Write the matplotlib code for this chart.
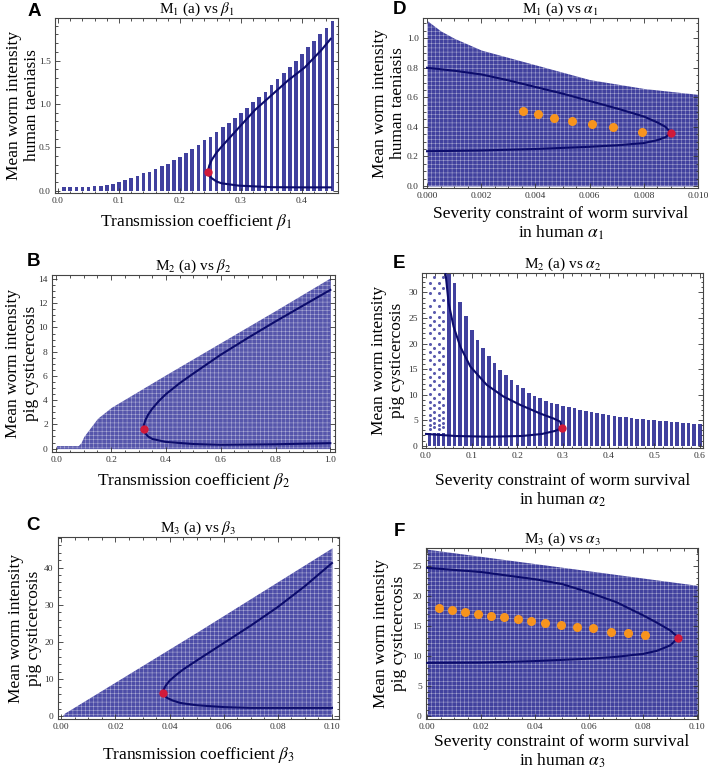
import numpy as np
import matplotlib
matplotlib.use('Agg')
import matplotlib.pyplot as plt
from matplotlib.ticker import MultipleLocator, FormatStrFormatter

plt.rcParams['font.family'] = ['Liberation Serif', 'DejaVu Serif']
plt.rcParams['mathtext.fontset'] = 'stix'
plt.rcParams['hatch.linewidth'] = 0.35

# ---------------- data ----------------
# A: M1 vs beta1 (columns of points)
A_x = [0.01, 0.02, 0.03, 0.04, 0.05, 0.06, 0.07, 0.08, 0.09, 0.10,
       0.11, 0.12, 0.13, 0.14, 0.15, 0.16, 0.17, 0.18, 0.19, 0.20,
       0.21, 0.22, 0.23, 0.24, 0.25, 0.26, 0.27, 0.28, 0.29, 0.30,
       0.31, 0.32, 0.33, 0.34, 0.35, 0.36, 0.37, 0.38, 0.39, 0.40,
       0.41, 0.42, 0.43, 0.44, 0.45]
A_top = [0.04, 0.04, 0.04, 0.04, 0.04, 0.05, 0.055, 0.06, 0.08, 0.10,
         0.12, 0.15, 0.17, 0.20, 0.22, 0.25, 0.28, 0.31, 0.35, 0.39,
         0.43, 0.48, 0.53, 0.58, 0.62, 0.68, 0.73, 0.78, 0.84, 0.90,
         0.95, 1.02, 1.08, 1.14, 1.22, 1.29, 1.36, 1.43, 1.49, 1.57,
         1.65, 1.72, 1.80, 1.87, 1.95]
A_up_x = [0.2454, 0.248, 0.252, 0.26, 0.2683, 0.2956, 0.3229, 0.35, 0.377, 0.4044, 0.4317, 0.447]
A_up_y = [0.216, 0.29, 0.354, 0.44, 0.508, 0.72, 0.93, 1.10, 1.27, 1.42, 1.62, 1.75]
A_lo_x = [0.2454, 0.248, 0.252, 0.26, 0.268, 0.296, 0.35, 0.40, 0.447]
A_lo_y = [0.216, 0.17, 0.143, 0.105, 0.085, 0.058, 0.04, 0.038, 0.038]
A_bif = (0.2454, 0.216)

# B: M2 vs beta2 (dense cloud)
B_env_x = [0.0, 0.08, 0.09, 0.10, 0.12, 0.15, 0.2, 0.4, 0.6, 0.8, 1.0]
B_env_top = [0.25, 0.25, 0.5, 1.0, 1.6, 2.5, 3.4, 6.1, 8.75, 11.4, 14.1]
B_up_x = [0.318, 0.32, 0.325, 0.335, 0.35, 0.375, 0.4, 0.45, 0.5, 0.6, 0.7, 0.8, 0.9, 1.0]
B_up_y = [1.6, 2.0, 2.35, 2.8, 3.3, 3.95, 4.5, 5.4, 6.2, 7.75, 9.15, 10.5, 11.8, 13.1]
B_lo_x = [0.318, 0.325, 0.335, 0.35, 0.4, 0.5, 0.6, 0.8, 1.0]
B_lo_y = [1.6, 1.25, 1.0, 0.8, 0.55, 0.38, 0.32, 0.36, 0.45]
B_bif = (0.318, 1.6)

# C: M3 vs beta3
C_env_x = [0.0005, 0.001, 0.05, 0.1]
C_env_top = [0.3, 0.8, 22.6, 45.3]
C_up_x = [0.0375, 0.0378, 0.0385, 0.04, 0.0425, 0.045, 0.05, 0.06, 0.07, 0.08, 0.09, 0.1]
C_up_y = [6.3, 7.2, 8.2, 9.6, 11.2, 12.6, 15.0, 19.7, 24.4, 29.4, 35.0, 41.2]
C_lo_x = [0.0375, 0.038, 0.039, 0.041, 0.044, 0.05, 0.06, 0.07, 0.1]
C_lo_y = [6.3, 5.6, 5.0, 4.3, 3.6, 3.0, 2.5, 2.3, 2.3]
C_bif = (0.0375, 6.3)

# D: M1 vs alpha1
D_env_x = [0.0, 0.0005, 0.001, 0.002, 0.003, 0.004, 0.005, 0.006, 0.007, 0.008, 0.009, 0.010]
D_env_top = [1.12, 1.05, 1.0, 0.92, 0.87, 0.82, 0.77, 0.72, 0.69, 0.66, 0.64, 0.62]
D_up_x = [0.0, 0.001, 0.002, 0.003, 0.004, 0.005, 0.006, 0.007, 0.008, 0.0085, 0.0088, 0.009]
D_up_y = [0.80, 0.78, 0.755, 0.715, 0.67, 0.625, 0.575, 0.525, 0.47, 0.43, 0.40, 0.36]
D_lo_x = [0.0, 0.002, 0.004, 0.006, 0.007, 0.008, 0.0085, 0.0088, 0.009]
D_lo_y = [0.235, 0.24, 0.25, 0.265, 0.275, 0.29, 0.31, 0.33, 0.36]
D_bif = (0.009, 0.36)
D_orange_x = [0.00355, 0.00409, 0.0047, 0.00536, 0.00607, 0.00685, 0.00794]
D_orange_y = [0.51, 0.488, 0.46, 0.442, 0.418, 0.402, 0.368]

# E: M2 vs alpha2 (columns)
E_x = [0.05, 0.0625, 0.075, 0.0875, 0.1, 0.1125, 0.125, 0.1375, 0.15, 0.1625,
       0.175, 0.1875, 0.2, 0.2125, 0.225, 0.2375, 0.25, 0.2625, 0.275, 0.2875,
       0.3, 0.3125, 0.325, 0.3375, 0.35, 0.3625, 0.375, 0.3875, 0.4, 0.4125,
       0.425, 0.4375, 0.45, 0.4625, 0.475, 0.4875, 0.5, 0.5125, 0.525, 0.5375,
       0.55, 0.5625, 0.575, 0.5875, 0.6]
E_top = [40.0, 31.8, 28.2, 25.3, 22.7, 20.7, 19.1, 17.6, 16.2, 14.9,
         13.9, 12.9, 11.9, 11.3, 10.4, 9.8, 9.3, 8.8, 8.4, 8.1,
         7.8, 7.5, 7.3, 7.0, 6.8, 6.6, 6.4, 6.2, 6.0, 5.85,
         5.7, 5.55, 5.45, 5.3, 5.2, 5.05, 4.95, 4.85, 4.75, 4.65,
         4.55, 4.45, 4.35, 4.3, 4.2]
E_sparse_x = [0.008, 0.018, 0.028, 0.038]
E_sparse_base = 2.5
E_dots_a = [3.2, 4.0, 5.0, 6.0, 7.3, 8.6, 10.2, 11.9, 13.5, 15.1, 16.8, 18.4,
            20.0, 22.0, 23.6, 25.2, 27.3, 29.8, 31.8]
E_dots_b = [3.6, 4.5, 5.5, 6.6, 7.9, 9.4, 11.0, 12.7, 14.3, 15.9, 17.6, 19.2,
            21.0, 22.8, 24.4, 26.2, 28.5, 30.8, 33.0]
E_up_x = [0.042, 0.0495, 0.0604, 0.075, 0.097, 0.133, 0.17, 0.206, 0.25, 0.28, 0.294, 0.2976]
E_up_y = [34.4, 27.9, 23.3, 19.4, 15.5, 11.9, 9.6, 8.0, 6.3, 5.3, 4.7, 3.5]
E_lo_x = [0.0, 0.064, 0.137, 0.21, 0.254, 0.283, 0.2976]
E_lo_y = [2.3, 1.9, 1.76, 1.9, 2.3, 2.9, 3.5]
E_bif = (0.2976, 3.5)

# F: M3 vs alpha3
F_env_x = [0.0, 0.1]
F_env_top = [27.8, 21.8]
F_up_x = [0.0, 0.02, 0.04, 0.05, 0.06, 0.07, 0.08, 0.085, 0.09, 0.093]
F_up_y = [24.7, 24.0, 22.8, 22.0, 20.6, 19.0, 16.8, 15.6, 14.3, 13.1]
F_lo_x = [0.0, 0.02, 0.04, 0.06, 0.07, 0.08, 0.085, 0.09, 0.093]
F_lo_y = [8.9, 8.95, 9.2, 9.6, 9.9, 10.4, 10.9, 11.8, 13.1]
F_bif = (0.093, 13.1)
F_orange_x = [0.0043, 0.0091, 0.0139, 0.0188, 0.0236, 0.0284, 0.0336, 0.0384,
              0.0435, 0.0495, 0.0554, 0.0613, 0.068, 0.0743, 0.0805]
F_orange_y = [18.1, 17.7, 17.3, 17.0, 16.7, 16.5, 16.2, 15.9, 15.5, 15.2,
              14.8, 14.7, 14.1, 13.9, 13.5]

# ---------------- styling ----------------
W, H = 709, 776
CLOUD = '#41419e'
CURVE = '#0c0c6c'
RED = '#d11a3a'
ORANGE = '#f7941e'


def px_rect(l, t, r, b):
    return [l / W, 1 - b / H, (r - l) / W, (b - t) / H]


def frame(ax, xlim, ylim, xmaj, xmin, ymaj, ymin, xfmt, yfmt):
    ax.set_xlim(*xlim)
    ax.set_ylim(*ylim)
    ax.xaxis.set_major_locator(MultipleLocator(xmaj))
    ax.xaxis.set_minor_locator(MultipleLocator(xmin))
    ax.yaxis.set_major_locator(MultipleLocator(ymaj))
    ax.yaxis.set_minor_locator(MultipleLocator(ymin))
    ax.xaxis.set_major_formatter(FormatStrFormatter(xfmt))
    ax.yaxis.set_major_formatter(FormatStrFormatter(yfmt))
    ax.tick_params(which='both', direction='in', top=True, right=True,
                   labelsize=6.8, colors='#333333', width=0.6, pad=3)
    ax.tick_params(which='major', length=3.5)
    ax.tick_params(which='minor', length=1.8)
    for s in ax.spines.values():
        s.set_linewidth(0.8)
        s.set_color('#444444')


def cloud_fill(ax, x, top, color=CLOUD, hatch='++++'):
    ax.fill_between(x, 0, top, color=color, linewidth=0, zorder=1)
    ax.fill_between(x, 0, top, facecolor='none', edgecolor='white',
                    hatch=hatch, linewidth=0, alpha=0.55, zorder=1.5)


def branches(ax, ux, uy, lx, ly, bif):
    ax.plot(ux, uy, color=CURVE, lw=1.5, zorder=3)
    ax.plot(lx, ly, color=CURVE, lw=1.5, zorder=3)
    ax.plot(*bif, 'o', color=RED, ms=6, mec='none', zorder=5)


def labels(ax, rect, title, ylab, xlab, ylab_x, xlab_y, letter, letter_xy):
    l, t, r, b = rect
    ax.set_title(title, fontsize=11, pad=3)
    fig.text(ylab_x / W, 1 - (t + b) / 2 / H, ylab, rotation=90, ha='center',
             va='center', fontsize=12.5, multialignment='center', linespacing=1.1)
    fig.text((l + r) / 2 / W, 1 - xlab_y / H, xlab, ha='center', va='center',
             fontsize=12.5, multialignment='center', linespacing=1.15)
    fig.text(letter_xy[0] / W, 1 - letter_xy[1] / H, letter, ha='center', va='center',
             fontsize=13.5, fontweight='bold', family='Liberation Sans')


fig = plt.figure(figsize=(7.09, 7.76), dpi=100)

rA = (55, 18, 338, 193)
rB = (52, 275, 335, 452)
rC = (58, 537, 339, 719)
rD = (423, 18, 698, 188)
rE = (422, 273, 703, 448)
rF = (426, 548, 698, 719)

# ---- A ----
ax = fig.add_axes(px_rect(*rA))
ax.bar(A_x, A_top, width=0.006, bottom=0.0, color=CLOUD, linewidth=0, zorder=1)
branches(ax, A_up_x, A_up_y, A_lo_x, A_lo_y, A_bif)
frame(ax, (-0.005, 0.459), (-0.027, 1.99), 0.1, 0.02, 0.5, 0.1, '%.1f', '%.1f')
labels(ax, rA, r'M$_1$ (a) vs $\beta_1$', 'Mean worm intensity\nhuman taeniasis',
       r'Transmission coefficient $\beta_1$', 23, 222, 'A', (34, 11))

# ---- B ----
ax = fig.add_axes(px_rect(*rB))
cloud_fill(ax, B_env_x, B_env_top, color='#5656ab')
branches(ax, B_up_x, B_up_y, B_lo_x, B_lo_y, B_bif)
frame(ax, (-0.016, 1.017), (-0.28, 14.33), 0.2, 0.05, 2, 0.5, '%.1f', '%d')
labels(ax, rB, r'M$_2$ (a) vs $\beta_2$', 'Mean worm intensity\npig cysticercosis',
       r'Transmission coefficient $\beta_2$', 22, 481, 'B', (34, 262))

# ---- C ----
ax = fig.add_axes(px_rect(*rC))
cloud_fill(ax, C_env_x, C_env_top, color='#4d4da7')
branches(ax, C_up_x, C_up_y, C_lo_x, C_lo_y, C_bif)
frame(ax, (-0.00125, 0.1026), (-0.7, 48.2), 0.02, 0.005, 10, 2, '%.2f', '%d')
labels(ax, rC, r'M$_3$ (a) vs $\beta_3$', 'Mean worm intensity\npig cysticercosis',
       r'Transmission coefficient $\beta_3$', 25, 755, 'C', (33, 526))

# ---- D ----
ax = fig.add_axes(px_rect(*rD))
cloud_fill(ax, D_env_x, D_env_top)
branches(ax, D_up_x, D_up_y, D_lo_x, D_lo_y, D_bif)
ax.plot(D_orange_x, D_orange_y, 'o', color=ORANGE, ms=6.5, mec='none', zorder=4)
frame(ax, (-0.00015, 0.0100), (-0.014, 1.137), 0.002, 0.0005, 0.2, 0.05, '%.3f', '%.1f')
labels(ax, rD, r'M$_1$ (a) vs $\alpha_1$', 'Mean worm intensity\nhuman taeniasis',
       'Severity constraint of worm survival\n' + r'in human $\alpha_1$', 389, 224, 'D', (399, 9))

# ---- E ----
ax = fig.add_axes(px_rect(*rE))
ax.bar(E_x, E_top, width=0.008, color=CLOUD, linewidth=0, zorder=1)
ax.bar(E_sparse_x, [E_sparse_base] * len(E_sparse_x), width=0.006,
       color=CLOUD, linewidth=0, zorder=1)
for i, xs in enumerate(E_sparse_x):
    lv = E_dots_a if i % 2 == 0 else E_dots_b
    ax.plot([xs] * len(lv), lv, 'o', color='#5a5aae', ms=2.2, mec='none', zorder=1)
branches(ax, E_up_x, E_up_y, E_lo_x, E_lo_y, E_bif)
frame(ax, (-0.0088, 0.6066), (-0.45, 33.8), 0.1, 0.02, 5, 1, '%.1f', '%d')
labels(ax, rE, r'M$_2$ (a) vs $\alpha_2$', 'Mean worm intensity\npig cysticercosis',
       'Severity constraint of worm survival\n' + r'in human $\alpha_2$', 388, 491, 'E', (399, 263))

# ---- F ----
ax = fig.add_axes(px_rect(*rF))
cloud_fill(ax, F_env_x, F_env_top)
branches(ax, F_up_x, F_up_y, F_lo_x, F_lo_y, F_bif)
ax.plot(F_orange_x, F_orange_y, 'o', color=ORANGE, ms=6.5, mec='none', zorder=4)
frame(ax, (-0.0005, 0.1003), (-0.43, 28.0), 0.02, 0.005, 5, 1, '%.2f', '%d')
labels(ax, rF, r'M$_3$ (a) vs $\alpha_3$', 'Mean worm intensity\npig cysticercosis',
       'Severity constraint of worm survival\n' + r'in human $\alpha_3$', 390, 752, 'F', (399, 531))

fig.savefig('out.png', dpi=100)
